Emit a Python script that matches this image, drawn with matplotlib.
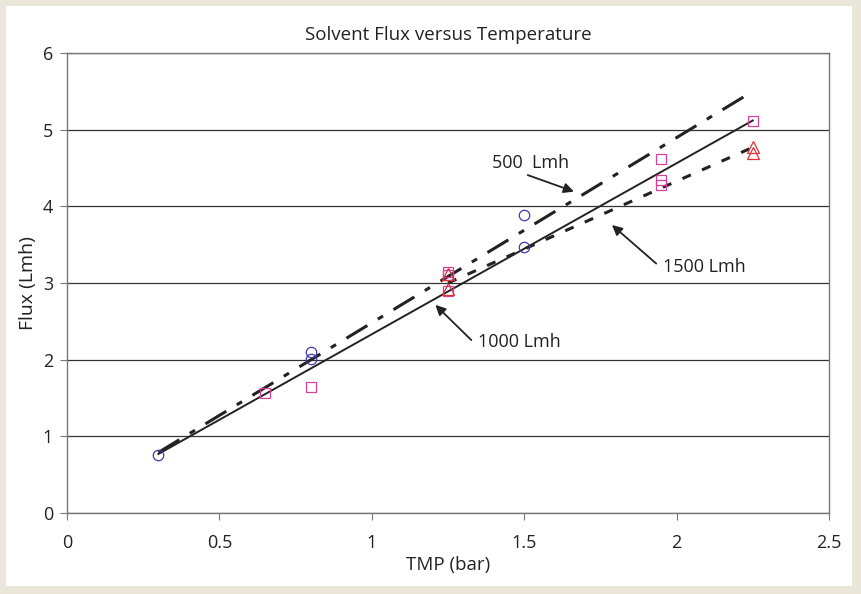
import numpy as np
import matplotlib
matplotlib.use("Agg")
from matplotlib import pyplot as plt
from matplotlib.patches import Rectangle

plt.rcParams['font.family'] = ['Open Sans', 'DejaVu Sans']

# measured points
tmp_500 = [0.3, 0.8, 0.8, 1.5, 1.5]
flux_500 = [0.76, 2.10, 2.01, 3.89, 3.47]
tmp_1000 = [0.65, 0.8, 1.25, 1.25, 1.25, 1.95, 1.95, 1.95, 2.25]
flux_1000 = [1.57, 1.64, 3.14, 3.10, 2.90, 4.62, 4.34, 4.28, 5.11]
tmp_1500 = [1.25, 1.25, 2.25, 2.25]
flux_1500 = [3.12, 2.92, 4.78, 4.69]

# trend lines (end points)
fit_500_x = [0.3, 2.25]
fit_500_y = [0.79, 5.50]
fit_1000_x = [0.3, 2.25]
fit_1000_y = [0.77, 5.12]
fit_1500_x = [1.25, 2.25]
fit_1500_y = [3.00, 4.77]

fig = plt.figure(figsize=(8.61, 5.94), dpi=100)
fig.patch.set_facecolor('#ebe6da')
fig.patches.append(Rectangle((6/861, 8/594), 846/861, 580/594, transform=fig.transFigure,
                             facecolor='white', edgecolor='none', zorder=-10))

ax = fig.add_axes([67/861, 81/594, 762/861, 460/594])
ax.set_facecolor('white')

ax.plot(fit_500_x, fit_500_y, color='#222222', lw=2.2, dashes=[8, 4, 2, 4], zorder=3)
ax.plot(fit_1000_x, fit_1000_y, color='#222222', lw=1.4, zorder=3)
ax.plot(fit_1500_x, fit_1500_y, color='#222222', lw=2.2, dashes=[3, 4], zorder=3)

ax.plot(tmp_500, flux_500, 'o', mfc='none', mec='#3d3da8', ms=7.5, mew=0.9, zorder=4)
ax.plot(tmp_1000, flux_1000, 's', mfc='none', mec='#d6409a', ms=7, mew=0.9, zorder=4)
ax.plot(tmp_1500, flux_1500, '^', mfc='none', mec='#e0303a', ms=8, mew=0.9, zorder=4)

arrow = dict(arrowstyle='-|>', color='#222222', lw=1.3, mutation_scale=15)
ax.text(1.394, 4.56, '500  Lmh', fontsize=13, va='center', ha='left', color='#222222')
ax.annotate('', xy=(1.672, 4.18), xytext=(1.503, 4.42), arrowprops=arrow)
ax.text(1.954, 3.21, '1500 Lmh', fontsize=13, va='center', ha='left', color='#222222')
ax.annotate('', xy=(1.781, 3.78), xytext=(1.94, 3.23), arrowprops=arrow)
ax.text(1.349, 2.225, '1000 Lmh', fontsize=13, va='center', ha='left', color='#222222')
ax.annotate('', xy=(1.202, 2.74), xytext=(1.333, 2.23), arrowprops=arrow)

ax.set_xlim(0, 2.5)
ax.set_ylim(0, 6)
ax.set_xticks([0, 0.5, 1, 1.5, 2, 2.5])
ax.set_xticklabels(['0', '0.5', '1', '1.5', '2', '2.5'])
ax.set_yticks(range(7))
ax.yaxis.grid(True, color='#333333', lw=0.9)
ax.set_axisbelow(True)
for s in ax.spines.values():
    s.set_color('#777777')
    s.set_linewidth(1.0)
ax.tick_params(axis='both', direction='out', length=5, color='#777777', labelsize=13,
               labelcolor='#222222')
ax.tick_params(axis='x', pad=10)
ax.tick_params(axis='y', pad=5)

ax.set_title('Solvent Flux versus Temperature', fontsize=13.5, color='#222222', pad=9)
ax.set_xlabel('TMP (bar)', fontsize=13.5, color='#222222', labelpad=3)
ax.set_ylabel('Flux (Lmh)', fontsize=14, color='#222222', labelpad=4)

fig.savefig('out.png', dpi=100, facecolor=fig.get_facecolor())
